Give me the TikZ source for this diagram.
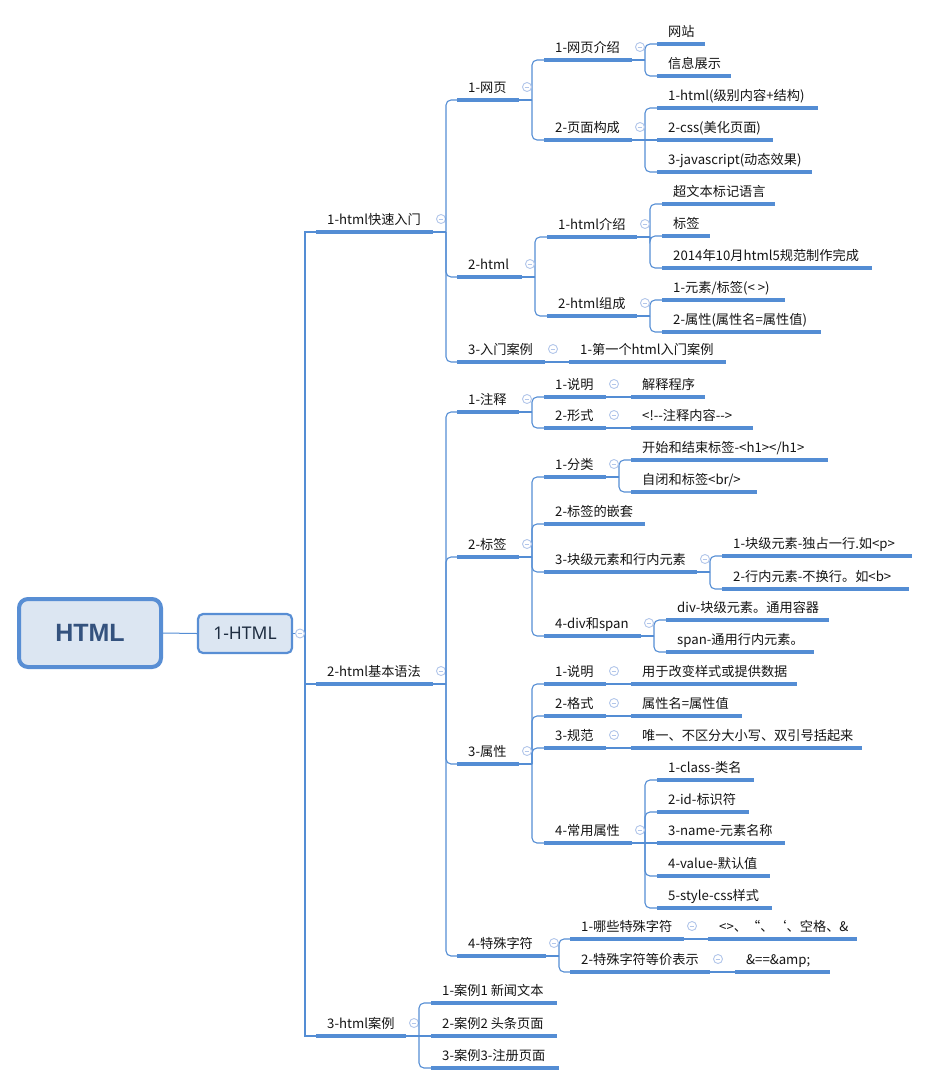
\documentclass[tikz,border=0pt]{standalone}
\usepackage{fontspec}
\setmainfont{Noto Sans CJK SC}
\newfontfamily\latinsans{Noto Sans}
\newfontfamily\htmlfont{Liberation Sans}
\definecolor{lineblue}{RGB}{84,141,212}
\definecolor{btnblue}{RGB}{178,198,234}
\definecolor{boxfill}{RGB}{220,230,242}
\definecolor{boxdraw}{RGB}{88,142,212}
\definecolor{htmltext}{RGB}{52,82,126}
\definecolor{hone}{RGB}{30,45,65}
\definecolor{txt}{RGB}{20,20,20}
\tikzset{
  uline/.style={draw=lineblue, line width=3.2pt},
  thinline/.style={draw=lineblue, line width=1.1pt},
  ttext/.style={anchor=base west, inner sep=0pt, text=txt, font=\fontsize{13.2}{15}\selectfont},
  cbtn/.style={circle, draw=btnblue, fill=white, line width=0.9pt, minimum size=9pt, inner sep=0pt,
    path picture={\draw[btnblue, line width=0.9pt] ([xshift=-2.4pt]path picture bounding box.center) -- ([xshift=2.4pt]path picture bounding box.center);}},
}
\newcommand\topic[5]{%
  \coordinate (#1-l) at (#2,#4);
  \coordinate (#1-r) at (#3,#4);
  \draw[uline] (#1-l) -- (#1-r);
  \node[ttext] (#1) at (#2+11,#4-8) {#5};}
\newcommand\btn[1]{\node[cbtn] (#1-b) at ([xshift=8pt,yshift=13pt]#1-r) {};}
\newcommand\conn[2]{%
  \draw[thinline] (#1-r) -- ([xshift=13pt]#1-r);
  \draw[thinline, rounded corners=5pt] ([xshift=13pt]#1-r) |- (#2-l);}
\newcommand\sconn[2]{\draw[thinline] (#1-r) -- (#2-l);}
\begin{document}
\begin{tikzpicture}[x=1pt,y=-1pt]
\useasboundingbox (0,0) rectangle (930,1085);

% root and first level
\node[draw=boxdraw, line width=4pt, fill=boxfill, rounded corners=9pt,
      minimum width=142pt, minimum height=68pt, inner sep=0pt,
      text=htmltext, font=\htmlfont\bfseries\fontsize{25}{30}\selectfont] (root) at (90,633) {HTML};
\node[draw=boxdraw, line width=2.2pt, fill=boxfill, rounded corners=5pt,
      minimum width=94pt, minimum height=39pt, inner sep=0pt,
      text=hone, font=\latinsans\fontsize{17.5}{20}\selectfont] (h1) at (245,633.5) {1-HTML};
\draw[thinline, line width=1pt] (root.east) -- (h1.west);
\coordinate (T1) at (305,633.5);

% level 1
\topic{La}{316}{433}{232}{1-html快速入门}
\topic{Lb}{316}{433}{684}{2-html基本语法}
\topic{Lc}{316}{406}{1036}{3-html案例}
\draw[thinline] (h1.east) -- (T1);
\draw[thinline] (T1) |- (La-l);
\draw[thinline] (T1) |- (Lb-l);
\draw[thinline] (T1) |- (Lc-l);
\node[cbtn] (h1-b) at (300,633.5) {};
\btn{La}\btn{Lb}\btn{Lc}

% ---- 1-html快速入门
\topic{A1}{457}{519}{100}{1-网页}
\topic{A11}{544}{632}{60}{1-网页介绍}
\topic{A111}{657}{705}{44}{网站}
\topic{A112}{657}{731}{76}{信息展示}
\topic{A12}{544}{632}{140}{2-页面构成}
\topic{A121}{657}{818}{108}{1-html(级别内容+结构)}
\topic{A122}{657}{773}{140}{2-css(美化页面)}
\topic{A123}{657}{812}{172}{3-javascript(动态效果)}
\topic{A2}{457}{522}{277}{2-html}
\topic{A21}{547}{637}{237}{1-html介绍}
\topic{A211}{662}{775}{204}{超文本标记语言}
\topic{A212}{662}{710}{236}{标签}
\topic{A213}{662}{872}{268}{2014年10月html5规范制作完成}
\topic{A22}{547}{637}{316}{2-html组成}
\topic{A221}{662}{785}{300}{1-元素/标签(< >)}
\topic{A222}{662}{821}{332}{2-属性(属性名=属性值)}
\topic{A3}{457}{545}{362}{3-入门案例}
\topic{A31}{569}{726}{362}{1-第一个html入门案例}

\conn{La}{A1}\conn{La}{A2}\conn{La}{A3}
\conn{A1}{A11}\conn{A1}{A12}
\conn{A11}{A111}\conn{A11}{A112}
\conn{A12}{A121}\sconn{A12}{A122}\conn{A12}{A123}
\conn{A2}{A21}\conn{A2}{A22}
\conn{A21}{A211}\conn{A21}{A212}\conn{A21}{A213}
\conn{A22}{A221}\conn{A22}{A222}
\sconn{A3}{A31}
\btn{A1}\btn{A11}\btn{A12}\btn{A2}\btn{A21}\btn{A22}\btn{A3}

% ---- 2-html基本语法
\topic{B1}{457}{519}{412}{1-注释}
\topic{B11}{544}{606}{397}{1-说明}
\topic{B111}{631}{705}{397}{解释程序}
\topic{B12}{544}{606}{428}{2-形式}
\topic{B121}{631}{753}{428}{<!-{}-注释内容-{}->}
\topic{B2}{457}{519}{557}{2-标签}
\topic{B21}{544}{606}{477}{1-分类}
\topic{B211}{631}{828}{460}{开始和结束标签-<h1></h1>}
\topic{B212}{631}{757}{492}{自闭和标签<br/>}
\topic{B22}{544}{645}{524}{2-标签的嵌套}
\topic{B23}{544}{697}{572}{3-块级元素和行内元素}
\topic{B231}{722}{912}{556}{1-块级元素-独占一行.如<p>}
\topic{B232}{722}{909}{589}{2-行内元素-不换行。如<b>}
\topic{B24}{544}{641}{636}{4-div和span}
\topic{B241}{666}{829}{620}{div-块级元素。通用容器}
\topic{B242}{666}{814}{652}{span-通用行内元素。}
\topic{B3}{457}{519}{764}{3-属性}
\topic{B31}{544}{606}{684}{1-说明}
\topic{B311}{631}{797}{684}{用于改变样式或提供数据}
\topic{B32}{544}{606}{716}{2-格式}
\topic{B321}{631}{742}{716}{属性名=属性值}
\topic{B33}{544}{606}{748}{3-规范}
\topic{B331}{631}{862}{748}{唯一、不区分大小写、双引号括起来}
\topic{B34}{544}{632}{843}{4-常用属性}
\topic{B341}{657}{754}{780}{1-class-类名}
\topic{B342}{657}{749}{812}{2-id-标识符}
\topic{B343}{657}{785}{843}{3-name-元素名称}
\topic{B344}{657}{770}{876}{4-value-默认值}
\topic{B345}{657}{772}{908}{5-style-css样式}
\topic{B4}{457}{546}{956}{4-特殊字符}
\topic{B41}{570}{684}{939}{1-哪些特殊字符}
\topic{B411}{708}{857}{939}{<>、“、‘、空格、\&}
\topic{B42}{570}{710}{972}{2-特殊字符等价表示}
\topic{B421}{735}{830}{972}{\&==\&amp;}

\conn{Lb}{B1}\conn{Lb}{B2}\conn{Lb}{B3}\conn{Lb}{B4}
\conn{B1}{B11}\conn{B1}{B12}
\sconn{B11}{B111}\sconn{B12}{B121}
\conn{B2}{B21}\conn{B2}{B22}\conn{B2}{B23}\conn{B2}{B24}
\conn{B21}{B211}\conn{B21}{B212}
\conn{B23}{B231}\conn{B23}{B232}
\conn{B24}{B241}\conn{B24}{B242}
\conn{B3}{B31}\conn{B3}{B32}\conn{B3}{B33}\conn{B3}{B34}
\sconn{B31}{B311}\sconn{B32}{B321}\sconn{B33}{B331}
\conn{B34}{B341}\conn{B34}{B342}\sconn{B34}{B343}\conn{B34}{B344}\conn{B34}{B345}
\conn{B4}{B41}\conn{B4}{B42}
\sconn{B41}{B411}\sconn{B42}{B421}
\btn{B1}\btn{B11}\btn{B12}\btn{B2}\btn{B21}\btn{B23}\btn{B24}
\btn{B3}\btn{B31}\btn{B32}\btn{B33}\btn{B34}\btn{B4}\btn{B41}\btn{B42}

% ---- 3-html案例
\topic{C1}{431}{557}{1003}{1-案例1 新闻文本}
\topic{C2}{431}{557}{1036}{2-案例2 头条页面}
\topic{C3}{431}{559}{1068}{3-案例3-注册页面}
\conn{Lc}{C1}\sconn{Lc}{C2}\conn{Lc}{C3}
\end{tikzpicture}
\end{document}
